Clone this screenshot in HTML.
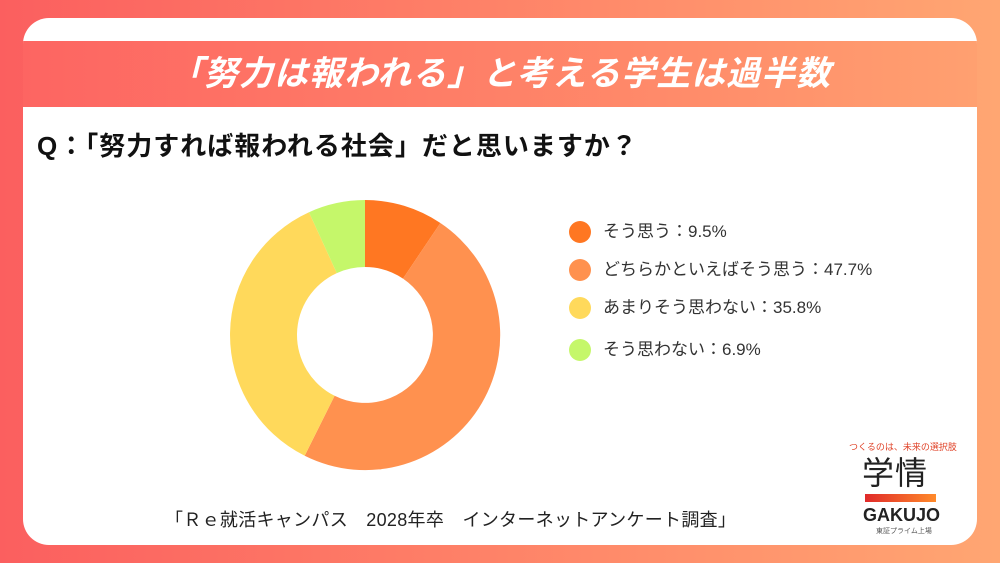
<!DOCTYPE html>
<html><head><meta charset="utf-8"><style>
body{margin:0;width:1000px;height:563px;overflow:hidden;background:linear-gradient(90deg,#fb5f5f 0%,#ff8a6a 60%,#ffa672 100%);font-family:"Liberation Sans","Noto Sans CJK JP",sans-serif;position:relative}
.card{position:absolute;left:23px;top:18px;width:954px;height:527px;background:#fff;border-radius:26px;overflow:hidden}
.band{position:absolute;left:0;top:23px;width:954px;height:66px;background:linear-gradient(90deg,#fd6562,#ff8c6a 70%,#ffa070);color:#fff;font-weight:bold;font-style:italic;font-size:34px;text-align:center;line-height:66px;letter-spacing:1px}
.q{position:absolute;left:14px;top:108px;font-size:26px;font-weight:bold;color:#111;letter-spacing:1px}
.lg{position:absolute;font-size:17px;color:#333;line-height:22px}
.dot{position:absolute;width:22px;height:22px;border-radius:50%}
.foot{position:absolute;left:142px;top:488px;font-size:18px;color:#222;letter-spacing:0.3px}
</style></head><body>
<div class="card">
<div class="band">「努力は報われる」と考える学生は過半数</div>
<div class="q">Q：「努力すれば報われる社会」だと思いますか？</div>
<svg style="position:absolute;left:0;top:0" width="954" height="527">
<g transform="translate(342,317)">
<path d="M0,-135 A135,135 0 0 1 75.4,-112 L38,-56.4 A68,68 0 0 0 0,-68Z" fill="#ff7722"/>
<path d="M75.4,-112 A135,135 0 0 1 -60.3,120.8 L-30.4,60.8 A68,68 0 0 0 38,-56.4Z" fill="#ff914f"/>
<path d="M-60.3,120.8 A135,135 0 0 1 -56,-122.8 L-28.2,-61.9 A68,68 0 0 0 -30.4,60.8Z" fill="#ffd95b"/>
<path d="M-56,-122.8 A135,135 0 0 1 0,-135 L0,-68 A68,68 0 0 0 -28.2,-61.9Z" fill="#c5f76a"/>
</g></svg>
<div class="dot" style="left:546px;top:203px;background:#ff7722"></div>
<div class="lg" style="left:580px;top:203px">そう思う：9.5%</div>
<div class="dot" style="left:546px;top:241px;background:#ff914f"></div>
<div class="lg" style="left:580px;top:241px">どちらかといえばそう思う：47.7%</div>
<div class="dot" style="left:546px;top:279px;background:#ffd95b"></div>
<div class="lg" style="left:580px;top:279px">あまりそう思わない：35.8%</div>
<div class="dot" style="left:546px;top:321px;background:#c5f76a"></div>
<div class="lg" style="left:580px;top:321px">そう思わない：6.9%</div>
<div class="foot">「Ｒｅ就活キャンパス　2028年卒　インターネットアンケート調査」</div>
<div style="position:absolute;left:826px;top:422px;font-size:9px;color:#e0442a">つくるのは、未来の選択肢</div>
<div style="position:absolute;left:839px;top:437px;font-size:32px;color:#222;letter-spacing:1px;line-height:36px">学情</div>
<div style="position:absolute;left:842px;top:476px;width:71px;height:8px;background:linear-gradient(90deg,#e02a2a,#ff8a2a)"></div>
<div style="position:absolute;left:840px;top:487px;font-size:18px;font-weight:bold;color:#222">GAKUJO</div>
<div style="position:absolute;left:853px;top:508px;font-size:7px;color:#555">東証プライム上場</div>
</div>
</body></html>
